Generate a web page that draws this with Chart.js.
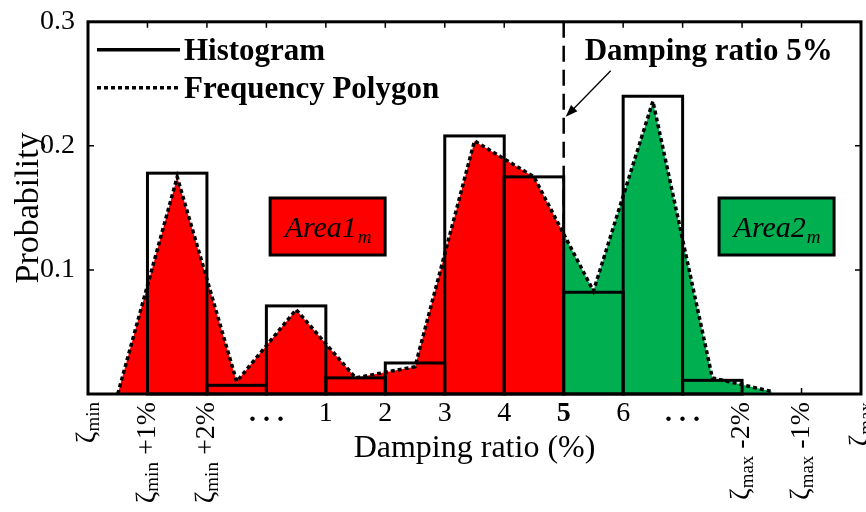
<!DOCTYPE html>
<html>
<head>
<meta charset="utf-8">
<script src="https://cdn.jsdelivr.net/npm/chart.js@4.4.1/dist/chart.umd.min.js"></script>
<style>
  html, body { margin: 0; padding: 0; background: #fff; }
</style>
</head>
<body>
<canvas id="grafico" width="866" height="512"></canvas>
<script>
// tick labels sit on the bin edges, values belong to the bins between them
const tickLabels = ['ζmin', 'ζmin +1%', 'ζmin +2%', '. . .', '1', '2', '3', '4', '5', '6', '. . .', 'ζmax -2%', 'ζmax -1%', 'ζmax']
const histogram = [0, 0.178, 0.007, 0.071, 0.013, 0.025, 0.208, 0.175, 0.082, 0.240, 0.011, 0, 0]
const polygon = [0, 0.175, 0.010, 0.068, 0.013, 0.022, 0.204, 0.175, 0.083, 0.236, 0.013, 0.002]
const yTicks = [0.1, 0.2, 0.3]

const splitAt = 8          // the "5" edge
const splitText = 'Damping ratio 5%'
const areaNames = ['Area1', 'Area2']
const areaAnchors = [[4.03, 0.135], [11.58, 0.135]]

const serif = "'Liberation Serif', 'Times New Roman', serif"
const red = '#ff0000'
const green = '#00b050'
const areaColors = [red, green]
const polyDash = [4, 3]

function splitFill(context) {
    const chart = context.chart
    const area = chart.chartArea
    const x = chart.scales.x
    if (!area || !x) return red
    const p = Math.min(Math.max((x.getPixelForValue(splitAt) - area.left) / (area.right - area.left), 0), 1)
    const g = chart.ctx.createLinearGradient(area.left, 0, area.right, 0)
    g.addColorStop(0, red)
    g.addColorStop(p, red)
    g.addColorStop(p, green)
    g.addColorStop(1, green)
    return g
}

// centred outlines so shared bar edges are not doubled
const histogramOutline = {
    id: 'histogramOutline',
    afterDatasetDraw(chart, args) {
        if (args.index !== 0) return
        const ctx = chart.ctx
        ctx.save()
        ctx.strokeStyle = '#000'
        ctx.lineWidth = 3
        args.meta.data.forEach((bar, i) => {
            if (!histogram[i]) return
            const {x, y, base, width} = bar.getProps(['x', 'y', 'base', 'width'], true)
            ctx.strokeRect(x - width / 2, y, width, base - y)
        })
        ctx.restore()
    }
}

const decorations = {
    id: 'decorations',
    beforeDatasetsDraw(chart) {
        const {ctx, chartArea: a, scales: {x}} = chart
        const sx = x.getPixelForValue(splitAt)
        ctx.save()
        ctx.strokeStyle = '#000'
        ctx.lineWidth = 2.5
        ctx.setLineDash([16, 8])
        ctx.beginPath()
        ctx.moveTo(sx, a.top)
        ctx.lineTo(sx, a.bottom)
        ctx.stroke()
        ctx.restore()
    },
    afterDraw(chart) {
        const {ctx, chartArea: a, scales: {x, y}} = chart
        ctx.save()
        ctx.fillStyle = '#000'
        ctx.strokeStyle = '#000'

        // frame
        ctx.lineWidth = 3
        ctx.strokeRect(a.left, a.top, a.right - a.left, a.bottom - a.top)

        // inward ticks
        ctx.lineWidth = 1.5
        ctx.beginPath()
        x.ticks.forEach(t => {
            const px = x.getPixelForValue(t.value)
            ctx.moveTo(px, a.top); ctx.lineTo(px, a.top + 6)
            ctx.moveTo(px, a.bottom); ctx.lineTo(px, a.bottom - 6)
        })
        y.ticks.forEach(t => {
            const py = y.getPixelForValue(t.value)
            ctx.moveTo(a.left, py); ctx.lineTo(a.left + 6, py)
            ctx.moveTo(a.right, py); ctx.lineTo(a.right - 6, py)
        })
        ctx.stroke()

        // x tick labels
        x.ticks.forEach(t => {
            const label = tickLabels[t.value]
            if (label == null) return
            const px = x.getPixelForValue(t.value)
            const m = label.match(/^ζ(min|max)(.*)$/)
            if (m) {
                const big = `28px ${serif}`
                const small = `19px ${serif}`
                ctx.font = big
                const w1 = ctx.measureText('ζ').width
                const w3 = ctx.measureText(m[2]).width
                ctx.font = small
                const w2 = ctx.measureText(m[1]).width
                ctx.save()
                ctx.translate(px, a.bottom + 8)
                ctx.rotate(-Math.PI / 2)
                ctx.textAlign = 'left'
                ctx.textBaseline = 'middle'
                let cx = -(w1 + w2 + w3)
                ctx.font = big
                ctx.fillText('ζ', cx, 0)
                cx += w1
                ctx.font = small
                ctx.fillText(m[1], cx, 6)
                cx += w2
                ctx.font = big
                ctx.fillText(m[2], cx, 0)
                ctx.restore()
            } else {
                const bold = label === '5' || label.startsWith('.')
                ctx.font = `${bold ? 'bold ' : ''}28px ${serif}`
                ctx.textAlign = 'center'
                ctx.textBaseline = 'middle'
                ctx.fillText(label, px, a.bottom + 20)
            }
        })

        // legend
        const ds = chart.data.datasets
        const rows = [[ds[0].label, []], [ds[1].label, polyDash]]
        rows.forEach(([label, dash], i) => {
            const ly = a.top + 28 + i * 38
            ctx.lineWidth = 3.5
            ctx.setLineDash(dash)
            ctx.beginPath()
            ctx.moveTo(a.left + 9, ly)
            ctx.lineTo(a.left + 92, ly)
            ctx.stroke()
            ctx.setLineDash([])
            ctx.font = `bold 31px ${serif}`
            ctx.textAlign = 'left'
            ctx.textBaseline = 'middle'
            ctx.fillText(label, a.left + 96, ly + 2)
        })

        // area labels
        areaNames.forEach((name, i) => {
            const cx = x.getPixelForValue(areaAnchors[i][0])
            const cy = y.getPixelForValue(areaAnchors[i][1])
            const w = 115, h = 57
            ctx.fillStyle = areaColors[i]
            ctx.fillRect(cx - w / 2, cy - h / 2, w, h)
            ctx.lineWidth = 3
            ctx.strokeRect(cx - w / 2, cy - h / 2, w, h)
            ctx.fillStyle = '#000'
            ctx.font = `italic 30px ${serif}`
            const w1 = ctx.measureText(name).width
            ctx.font = `italic 19px ${serif}`
            const w2 = ctx.measureText('m').width
            let tx = cx - (w1 + w2) / 2
            ctx.textAlign = 'left'
            ctx.textBaseline = 'alphabetic'
            ctx.font = `italic 30px ${serif}`
            ctx.fillText(name, tx, cy + 10)
            ctx.font = `italic 19px ${serif}`
            ctx.fillText('m', tx + w1 + 1, cy + 16)
        })

        // split annotation
        const sx = x.getPixelForValue(splitAt)
        ctx.font = `bold 31px ${serif}`
        ctx.textAlign = 'left'
        ctx.textBaseline = 'alphabetic'
        ctx.fillText(splitText, sx + 21, a.top + 38)
        const x0 = sx + 47, y0 = a.top + 49, x1 = sx + 2, y1 = a.top + 95
        ctx.lineWidth = 1.3
        ctx.beginPath()
        ctx.moveTo(x0, y0)
        ctx.lineTo(x1 + 6, y1 - 6)
        ctx.stroke()
        const ang = Math.atan2(y1 - y0, x1 - x0)
        ctx.beginPath()
        ctx.moveTo(x1, y1)
        ctx.lineTo(x1 - 13 * Math.cos(ang - 0.35), y1 - 13 * Math.sin(ang - 0.35))
        ctx.lineTo(x1 - 13 * Math.cos(ang + 0.35), y1 - 13 * Math.sin(ang + 0.35))
        ctx.closePath()
        ctx.fill()
        ctx.restore()
    }
}

const ctx = document.getElementById('grafico')

new Chart(ctx, {
    type: 'bar',
    data: {
        datasets: [{
            type: 'bar',
            label: 'Histogram',
            data: histogram.map((v, i) => ({x: i + 0.5, y: v})),
            backgroundColor: 'rgba(0,0,0,0)',
            borderWidth: 0,
            categoryPercentage: 1,
            barPercentage: 1,
            order: 1
        }, {
            type: 'line',
            label: 'Frequency Polygon',
            data: polygon.map((v, i) => ({x: i + 0.5, y: v})),
            borderColor: '#000',
            borderWidth: 3.5,
            borderDash: polyDash,
            backgroundColor: splitFill,
            fill: 'origin',
            pointRadius: 0,
            tension: 0,
            order: 2
        }]
    },
    options: {
        responsive: false,
        animation: false,
        events: [],
        layout: {padding: {top: 20, right: 5, left: 0, bottom: 0}},
        plugins: {legend: {display: false}, tooltip: {enabled: false}},
        scales: {
            x: {
                type: 'linear',
                offset: false,
                min: 0,
                max: tickLabels.length - 1,
                grid: {display: false},
                border: {display: false},
                ticks: {display: false, stepSize: 1},
                title: {
                    display: true,
                    text: 'Damping ratio (%)',
                    color: '#000',
                    font: {family: serif, size: 32, lineHeight: 1},
                    padding: {top: 0, bottom: 47}
                },
                afterFit(scale) { scale.height = 118 }
            },
            y: {
                min: 0,
                max: yTicks[yTicks.length - 1],
                grid: {display: false},
                border: {display: false},
                afterBuildTicks(scale) { scale.ticks = [0, ...yTicks].map(v => ({value: v})) },
                ticks: {
                    color: '#000',
                    padding: 5,
                    font: {family: serif, size: 28},
                    callback: v => (v === 0 ? '' : v.toFixed(1))
                },
                title: {
                    display: true,
                    text: 'Probability',
                    color: '#000',
                    font: {family: serif, size: 34, lineHeight: 1},
                    padding: {top: 12, bottom: 0}
                },
                afterFit(scale) { scale.width = 88 }
            }
        }
    },
    plugins: [histogramOutline, decorations]
})
</script>
</body>
</html>
